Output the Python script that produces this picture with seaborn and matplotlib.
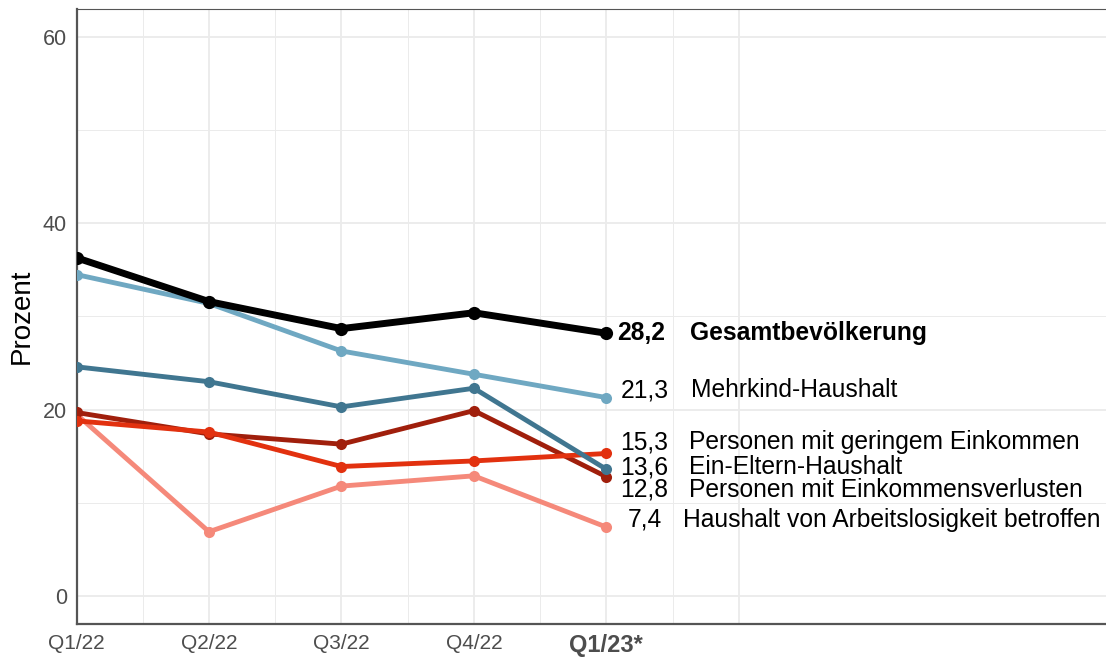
import numpy as np
import pandas as pd
import matplotlib
matplotlib.use('Agg')
import matplotlib.pyplot as plt
import seaborn as sns

# Daten (Prozent)
quartale = ['Q1/22', 'Q2/22', 'Q3/22', 'Q4/22', 'Q1/23*']
gesamt = [36.3, 31.6, 28.7, 30.4, 28.2]
mehrkind = [34.5, 31.4, 26.3, 23.8, 21.3]
ein_eltern = [24.6, 23.0, 20.3, 22.3, 13.6]
einkommensverluste = [19.7, 17.4, 16.3, 19.9, 12.8]
geringes_einkommen = [18.8, 17.6, 13.9, 14.5, 15.3]
arbeitslosigkeit = [19.5, 6.9, 11.8, 12.9, 7.4]

namen = ['Haushalt von Arbeitslosigkeit betroffen', 'Personen mit Einkommensverlusten',
         'Personen mit geringem Einkommen', 'Ein-Eltern-Haushalt', 'Mehrkind-Haushalt',
         'Gesamtbevölkerung']
werte = [arbeitslosigkeit, einkommensverluste, geringes_einkommen, ein_eltern, mehrkind, gesamt]
farben = ['#f5897a', '#a01f0c', '#e2310f', '#407690', '#6fa8c2', '#000000']
# Label-Positionen (verschoben, damit sie sich nicht überlappen)
label_y = [8.2, 11.4, 16.5, 13.8, 22.1, 28.2]
wert_x = [5.42, 5.467, 5.467, 5.467, 5.475, 5.445]
name_x = [5.58, 5.625, 5.625, 5.625, 5.64, 5.63]

df = pd.DataFrame({
    'x': np.tile(np.arange(1, 6), len(namen)),
    'wert': np.concatenate(werte),
    'gruppe': np.repeat(namen, 5),
})

sns.set_style('white')
plt.rcParams['font.family'] = ['Liberation Sans', 'DejaVu Sans']

fig = plt.figure(figsize=(11.06, 6.57), dpi=100)
ax = fig.add_axes([76.5 / 1106, 1 - 624 / 657, 1 - 76.5 / 1106 + 0.001, 615 / 657])

# Gitter
for v in np.arange(1, 6.01, 0.5):
    ax.axvline(v, color='#ebebeb', lw=1.3 if v % 1 == 0 else 0.7, zorder=0)
for h in range(0, 61, 10):
    ax.axhline(h, color='#ebebeb', lw=1.3 if h % 20 == 0 else 0.7, zorder=0)

for name, farbe in zip(namen, farben):
    sub = df[df['gruppe'] == name]
    dick = name == 'Gesamtbevölkerung'
    sns.lineplot(data=sub, x='x', y='wert', color=farbe, lw=5.0 if dick else 3.5,
                 marker='o', markersize=9.5 if dick else 8, markeredgewidth=0,
                 ax=ax, legend=False, zorder=3)

for name, serie, ly, wx, nx in zip(namen, werte, label_y, wert_x, name_x):
    dick = name == 'Gesamtbevölkerung'
    gewicht = 'bold' if dick else 'normal'
    wert_txt = f'{serie[-1]:.1f}'.replace('.', ',')
    ax.text(wx, ly, wert_txt, ha='right', va='center', fontsize=17.7,
            fontweight=gewicht, color='black')
    ax.text(nx, ly, name, ha='left', va='center', fontsize=17.7,
            fontweight=gewicht, color='black')

ax.set_xlim(1, 8.78)
ax.set_ylim(-3, 63)
ax.set_xticks(range(1, 6))
ax.set_xticklabels(quartale, fontsize=15, color='#4d4d4d')
lab = ax.get_xticklabels()[-1]
lab.set_fontweight('bold')
lab.set_fontsize(17)
ax.set_yticks([0, 20, 40, 60])
ax.set_yticklabels(['0', '20', '40', '60'], fontsize=15.5, color='#4d4d4d')
ax.tick_params(axis='both', length=4, width=1, color='#555555', direction='out', pad=3)
ax.set_xlabel('')
ax.set_ylabel('Prozent', fontsize=20, color='black', labelpad=6)

for side in ['top', 'right']:
    ax.spines[side].set_color('#555555')
    ax.spines[side].set_linewidth(0.8)
for side in ['left', 'bottom']:
    ax.spines[side].set_color('#555555')
    ax.spines[side].set_linewidth(1.6)

fig.savefig('out.png', dpi=100)
